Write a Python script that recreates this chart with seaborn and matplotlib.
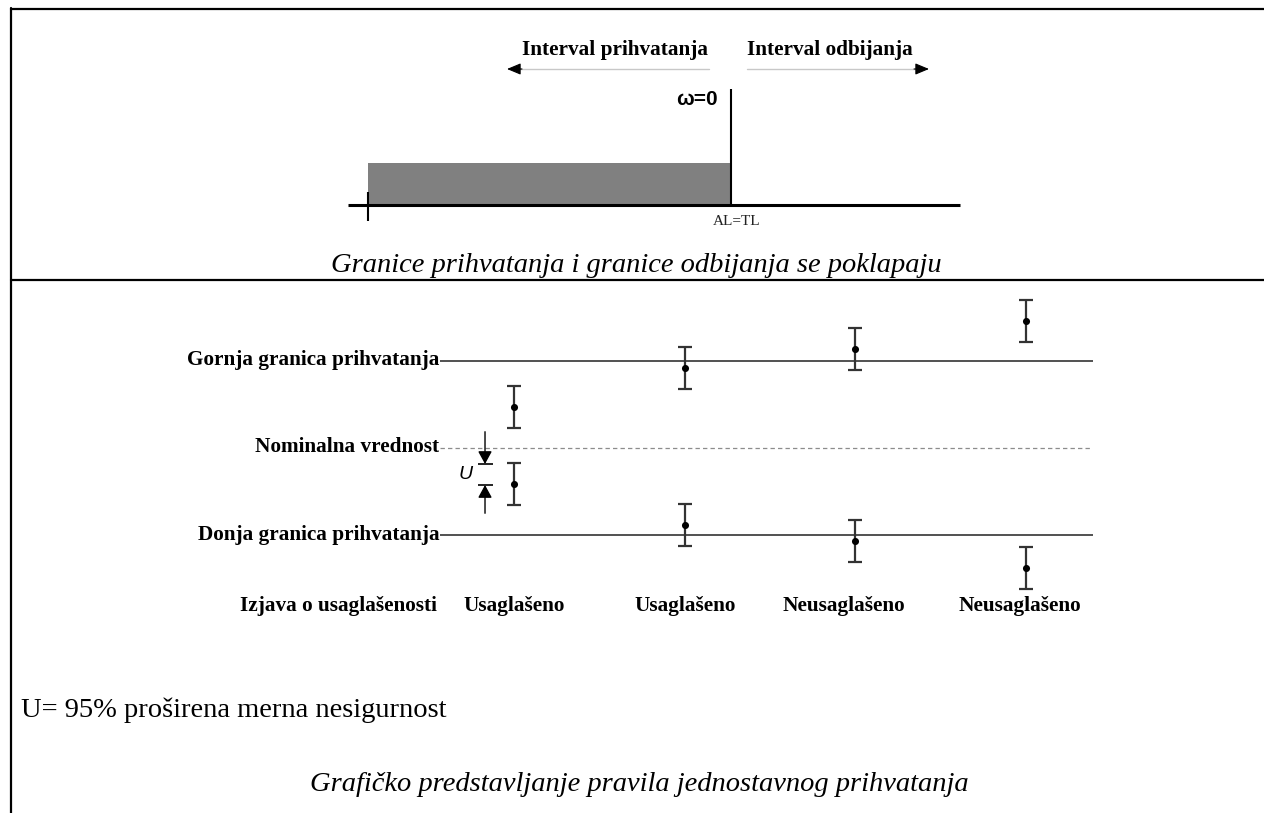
import matplotlib
matplotlib.use("Agg")
import matplotlib.pyplot as plt
import seaborn as sns

# --- top diagram: acceptance interval (x in units of interval length) ---
accept_interval = [0.0, 1.0]      # lower tick ... AL=TL
axis_span = [-0.055, 1.63]
accept_bar_height = 0.365
al_line_height = 1.0

# --- bottom diagram: results relative to nominal, limits at +/-1 ---
statements = ["Usaglašeno", "Usaglašeno", "Neusaglašeno", "Neusaglašeno"]
upper_results = [0.47, 0.91, 1.13, 1.45]
lower_results = [-0.41, -0.88, -1.06, -1.37]
expanded_u = 0.24
limit_names = ["Gornja granica prihvatanja", "Nominalna vrednost", "Donja granica prihvatanja"]
limit_values = [1.0, 0.0, -1.0]

W, H = 1264, 813
SERIF = "Liberation Serif"
SANS = "Liberation Sans"


def box(l, t, r, b):
    return [l / W, 1 - b / H, (r - l) / W, (b - t) / H]


sns.set_theme(style="white")
plt.rcParams["font.family"] = [SERIF, "DejaVu Sans"]
plt.rcParams["text.color"] = "black"

fig = plt.figure(figsize=(W / 100, H / 100), dpi=100)

# background axes in pixel coords for frame and free text
bg = fig.add_axes([0, 0, 1, 1])
bg.set_xlim(0, W)
bg.set_ylim(H, 0)
bg.axis("off")
bg.plot([11, 11], [8, H], color="black", lw=1.6)
bg.plot([11, W], [9, 9], color="black", lw=1.6)
bg.plot([11, W], [280, 280], color="black", lw=1.6)

bg.text(615, 55, "Interval prihvatanja", ha="center", va="baseline",
        fontsize=15.3, fontweight="bold")
bg.text(830, 55, "Interval odbijanja", ha="center", va="baseline",
        fontsize=15.3, fontweight="bold")
bg.plot([520, 709], [69, 69], color="#c8c8c8", lw=1)
bg.plot([747, 918], [69, 69], color="#c8c8c8", lw=1)
bg.annotate("", xy=(507, 69), xytext=(522, 69),
            arrowprops=dict(arrowstyle="-|>,head_length=0.6,head_width=0.25",
                            color="black", lw=0.8, shrinkA=0, shrinkB=0, mutation_scale=14))
bg.annotate("", xy=(929, 69), xytext=(914, 69),
            arrowprops=dict(arrowstyle="-|>,head_length=0.6,head_width=0.25",
                            color="black", lw=0.8, shrinkA=0, shrinkB=0, mutation_scale=14))

bg.text(636, 272, "Granice prihvatanja i granice odbijanja se poklapaju",
        ha="center", va="baseline", fontsize=20.5, style="italic")
bg.text(437, 611, "Izjava o usaglašenosti", ha="right", va="baseline",
        fontsize=15.3, fontweight="bold")
bg.text(21, 717, "U= 95% proširena merna nesigurnost", ha="left", va="baseline",
        fontsize=20.5)
bg.text(639, 791, "Grafičko predstavljanje pravila jednostavnog prihvatanja",
        ha="center", va="baseline", fontsize=20.5, style="italic")

# top diagram axes
ax_top = fig.add_axes(box(331.7, 65.8, 985.1, 228.2))
ax_top.set_xlim(-0.1, 1.7)
ax_top.set_ylim(-0.2, 1.2)
ax_top.axis("off")
ax_top.bar(accept_interval[0], accept_bar_height,
           width=accept_interval[1] - accept_interval[0], align="edge",
           color="#808080", linewidth=0)
ax_top.plot(axis_span, [0, 0], color="black", lw=2.2, solid_capstyle="butt")
ax_top.vlines(accept_interval[1], 0, al_line_height, color="black", lw=1.5)
ax_top.vlines(accept_interval[0], -0.138, 0.115, color="black", lw=1.5)
ax_top.text(accept_interval[1] + 0.015, -0.14, "AL=TL", ha="center", va="center",
            fontsize=11, color="#222222")
ax_top.text(accept_interval[1] - 0.036, 0.862, "ω=0", ha="right", va="baseline",
            fontsize=15, fontweight="bold", family=SANS)

# bottom diagram axes
ax = fig.add_axes(box(440, 290, 1093, 620))
ax.set_xlim(-0.436, 3.394)
ax.set_ylim(-1.966, 1.806)
ax.axis("off")

for name, val in zip(limit_names, limit_values):
    if val == 0:
        ax.axhline(val, color="#8c8c8c", lw=0.9, dashes=(3.5, 2.5))
    else:
        ax.axhline(val, color="#333333", lw=1.2)
    ax.text(-0.44, val - 0.046, name, ha="right", va="baseline",
            fontsize=15.3, fontweight="bold")

xs = list(range(len(statements)))
for vals in (upper_results, lower_results):
    ax.errorbar(xs, vals, yerr=expanded_u, fmt="none", ecolor="#333333",
                elinewidth=1.6, capsize=4.8, capthick=1.6)
    sns.scatterplot(x=xs, y=vals, color="black", s=26, edgecolor="black",
                    linewidth=0, ax=ax, zorder=3, legend=False)

label_shift = [0.0, 0.0, -0.07, -0.035]
for x, lab, dx in zip(xs, statements, label_shift):
    ax.text(x + dx, -1.863, lab, ha="center", va="baseline",
            fontsize=15.3, fontweight="bold")

# U bracket next to the nominal value
u_x = -0.172
u_top = -0.183
u_bot = u_top - expanded_u
arrow = dict(arrowstyle="-|>,head_length=0.55,head_width=0.3", color="black",
             lw=1.0, shrinkA=0, shrinkB=0, mutation_scale=14)
ax.annotate("", xy=(u_x, u_top), xytext=(u_x, 0.186), arrowprops=arrow)
ax.annotate("", xy=(u_x, u_bot), xytext=(u_x, -0.746), arrowprops=arrow)
ax.hlines([u_top, u_bot], u_x - 0.044, u_x + 0.044, color="black", lw=1.2)
ax.text(u_x - 0.115, (u_top + u_bot) / 2, "U", ha="center", va="center",
        fontsize=14, style="italic", family=SANS)

fig.savefig("out.png", dpi=100)
